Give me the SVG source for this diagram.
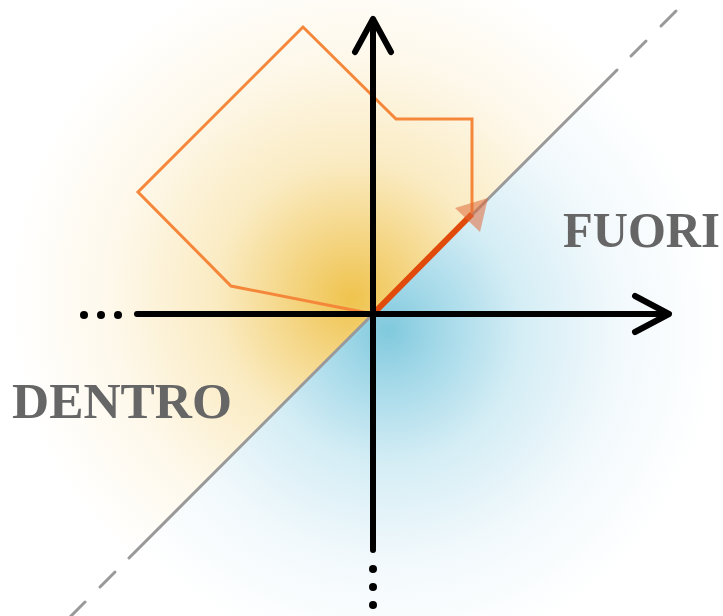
<svg xmlns="http://www.w3.org/2000/svg" width="723" height="616" viewBox="0 0 723 616">
<defs>
<radialGradient id="gy" gradientUnits="userSpaceOnUse" cx="352" cy="298" r="340">
<stop offset="0" stop-color="#efc34d"/>
<stop offset="0.15" stop-color="#f3d27a"/>
<stop offset="0.4" stop-color="#faebc2"/>
<stop offset="0.7" stop-color="#fef8ea"/>
<stop offset="1" stop-color="#ffffff"/>
</radialGradient>
<radialGradient id="gb" gradientUnits="userSpaceOnUse" cx="388" cy="330" r="330">
<stop offset="0" stop-color="#80c9dd"/>
<stop offset="0.15" stop-color="#a2d8e8"/>
<stop offset="0.4" stop-color="#d4edf5"/>
<stop offset="0.7" stop-color="#f2f9fc"/>
<stop offset="1" stop-color="#ffffff"/>
</radialGradient>
<style>
.ax{stroke:#000;stroke-width:6;fill:none;stroke-linecap:round;stroke-linejoin:round}
.dg{stroke:#999;stroke-width:3;stroke-linecap:round;fill:none}
.lbl{font-family:"Liberation Serif",serif;font-weight:bold;font-size:50px;fill:#666}
</style>
</defs>
<rect width="723" height="616" fill="#fff"/>
<g id="shading">
<polygon points="0,0 687,0 0,687" fill="url(#gy)"/>
<polygon points="687,0 723,0 723,616 71,616" fill="url(#gb)"/>
</g>
<g id="boundary">
<line class="dg" x1="129" y1="558" x2="617" y2="70"/>
<line class="dg" x1="631" y1="56" x2="646" y2="41"/>
<line class="dg" x1="661" y1="26" x2="676" y2="11"/>
<line class="dg" x1="100" y1="587" x2="115" y2="572"/>
<line class="dg" x1="70" y1="617" x2="85" y2="602"/>
</g>
<g id="path">
<polyline points="373,314 231,286 138,192 303,27 396,119 472,119 472,213" fill="none" stroke="#f5873a" stroke-width="3"/>
<line x1="373" y1="314" x2="472" y2="214" stroke="#e04a0a" stroke-width="6"/>
<polygon points="488,198 455,208 480,232" fill="#e06a3a" fill-opacity="0.55"/>
</g>
<g id="axes">
<line class="ax" x1="137" y1="314" x2="668" y2="314"/>
<polyline class="ax" points="635,296 669,314 635,332"/>
<line class="ax" x1="373" y1="550" x2="373" y2="20"/>
<polyline class="ax" points="355,52 373,19 391,52"/>
<circle cx="84" cy="315" r="4"/>
<circle cx="101" cy="315" r="4"/>
<circle cx="118" cy="315" r="4"/>
<circle cx="373" cy="569" r="4"/>
<circle cx="373" cy="587" r="4"/>
<circle cx="373" cy="605" r="4"/>
</g>
<g id="labels">
<text class="lbl" x="12" y="418" textLength="220" lengthAdjust="spacingAndGlyphs">DENTRO</text>
<text class="lbl" x="563" y="247" textLength="157" lengthAdjust="spacingAndGlyphs">FUORI</text>
</g>
</svg>
